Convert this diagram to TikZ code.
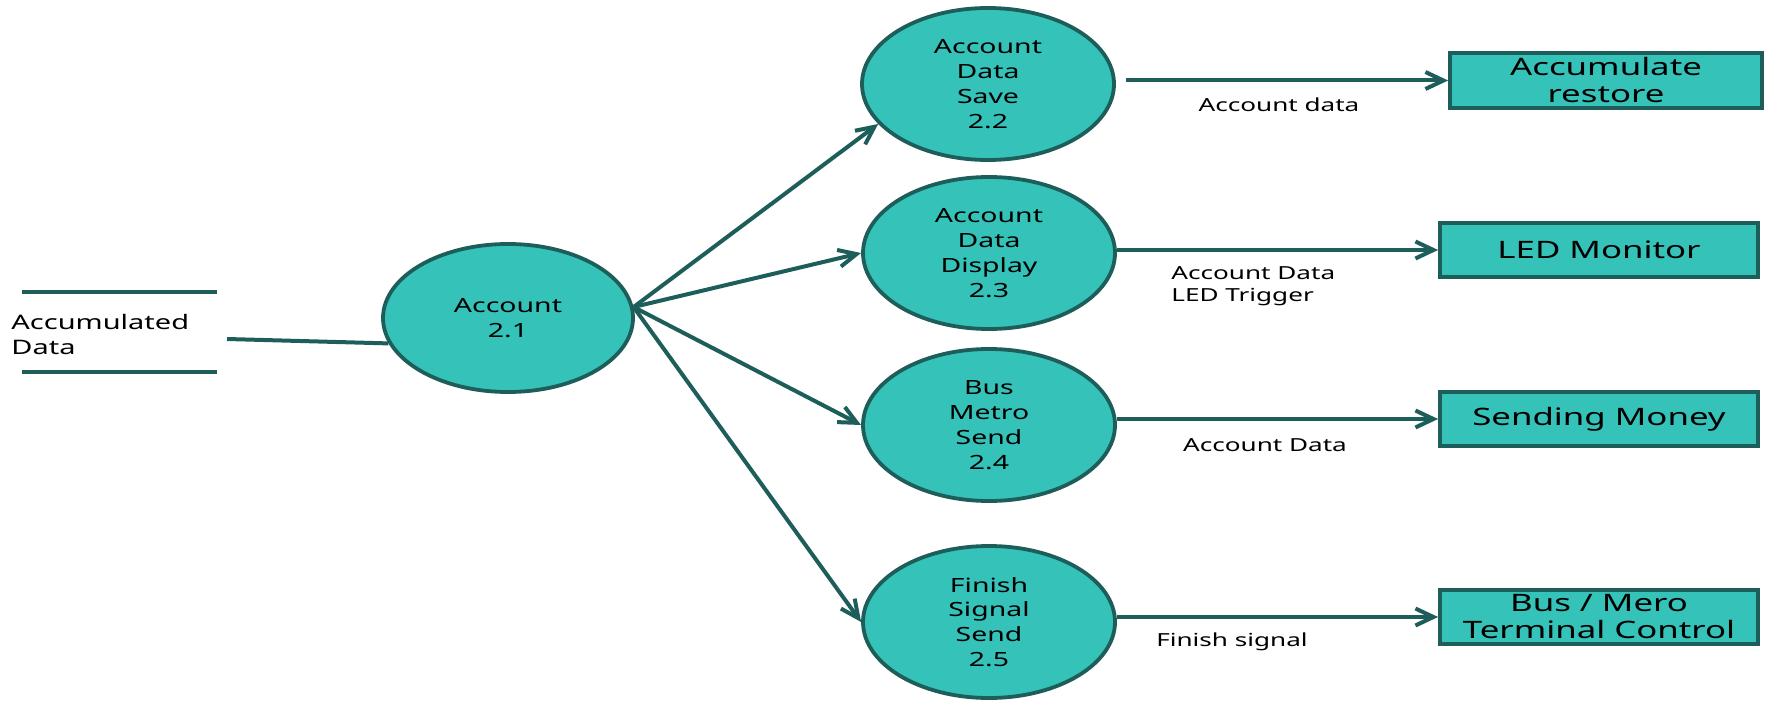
\documentclass[tikz,border=0pt]{standalone}
\usepackage{fontspec}
\setmainfont{Noto Sans}[FakeStretch=1.45]
\usetikzlibrary{shapes.geometric,arrows.meta}
\definecolor{tealfill}{HTML}{35C2B9}
\definecolor{tealdark}{HTML}{1E5E5A}
\begin{document}
\begin{tikzpicture}[x=0.5pt,y=-0.5pt,
  proc/.style={ellipse,draw=tealdark,fill=tealfill,line width=1.9pt,minimum width=126pt,minimum height=76pt,inner sep=0pt,align=center,text=black,font=\fontsize{9.8}{12.4}\selectfont},
  ext/.style={rectangle,draw=tealdark,fill=tealfill,line width=1.9pt,minimum width=159pt,minimum height=27pt,inner sep=0pt,align=center,font=\fontsize{12}{13.5}\selectfont},
  flow/.style={draw=tealdark,line width=2pt,-{Straight Barb[length=9pt,width=8.5pt]}},
  plain/.style={draw=tealdark,line width=2pt},
  lbl/.style={font=\fontsize{9}{11}\selectfont,inner sep=0pt,align=left}]
\useasboundingbox (0,0) rectangle (1783,701);

% data store
\coordinate (dsa1) at (22,292);
\coordinate (dsa2) at (217,292);
\coordinate (dsb1) at (22,372);
\coordinate (dsb2) at (217,372);
\draw[plain] (dsa1) -- (dsa2);
\draw[plain] (dsb1) -- (dsb2);
\node[lbl,anchor=west,font=\fontsize{10}{12.5}\selectfont] (ds) at (11,334) {Accumulated\\Data};
\coordinate (dsout) at (227,339);

% processes
\node[proc,minimum width=125pt,minimum height=74pt] (a21) at (508,318) {Account\\2.1};
\node[proc] (a22) at (988,84) {Account\\Data\\Save\\2.2};
\node[proc] (a23) at (989,253) {Account\\Data\\Display\\2.3};
\node[proc] (a24) at (989,425) {Bus\\Metro\\Send\\2.4};
\node[proc] (a25) at (989,622) {Finish\\Signal\\Send\\2.5};

% externals
\node[ext,minimum width=156pt,minimum height=27.5pt] (b22) at (1606,80.5) {Accumulate\\restore};
\node[ext] (b23) at (1599,250) {LED Monitor};
\node[ext] (b24) at (1599,419) {Sending Money};
\node[ext] (b25) at (1599,617) {Bus / Mero\\Terminal Control};

% connectors
\draw[plain] (dsout) -- (a21.192);
\draw[flow] (a21.5) -- (a22.200);
\draw[flow] (a21.5) -- (a23.west);
\draw[flow] (a21.5) -- (a24.west);
\draw[flow] (a21.5) -- (a25.west);

\draw[flow] ([xshift=5pt]a22.east |- b22.west) -- (b22.west);
\draw[flow] (a23.east |- b23.west) -- (b23.west);
\draw[flow] (a24.east |- b24.west) -- (b24.west);
\draw[flow] (a25.east |- b25.west) -- (b25.west);

% labels
\node[lbl] (l22) at (1279,105) {Account data};
\node[lbl,anchor=west] (l23) at (1171,286) {Account Data\\LED Trigger};
\node[lbl] (l24) at (1265,445) {Account Data};
\node[lbl] (l25) at (1232,642) {Finish signal};
\end{tikzpicture}
\end{document}
